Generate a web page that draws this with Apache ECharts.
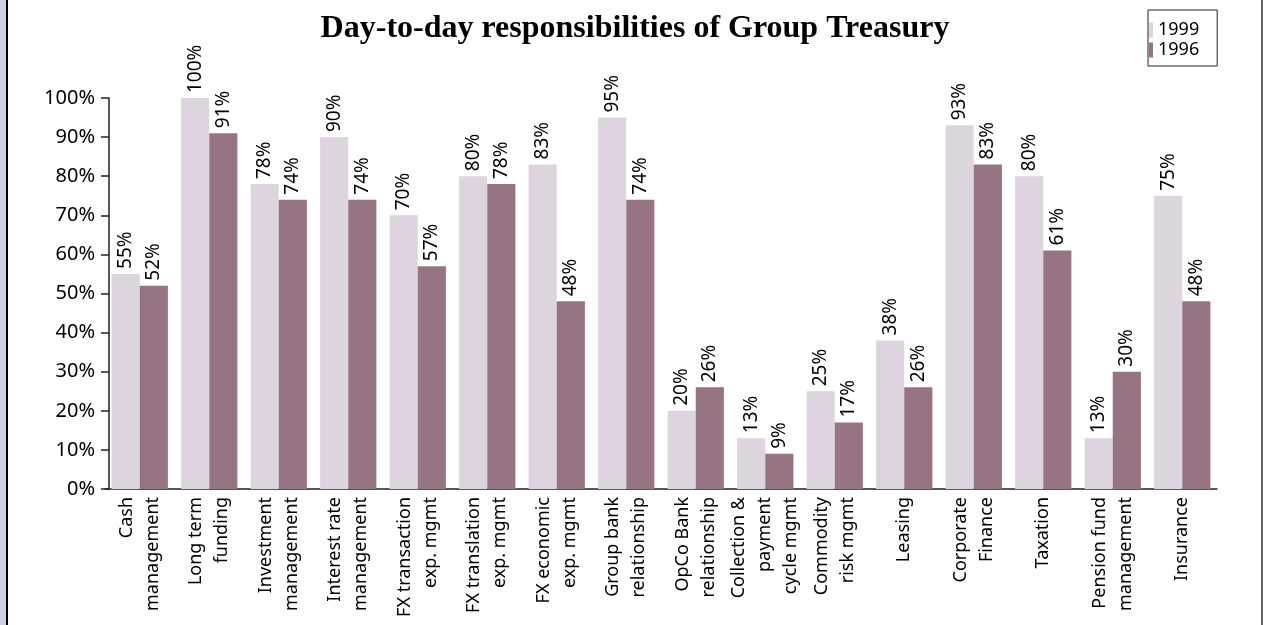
<!DOCTYPE html>
<html>
<head>
<meta charset="utf-8">
<script src="https://cdn.jsdelivr.net/npm/echarts@6/dist/echarts.min.js"></script>
<style>
html,body{margin:0;padding:0;background:#fff;}
#c{width:1263px;height:625px;}
</style>
</head>
<body>
<div id="c"></div>
<script>
const titleText = 'Day-to-day responsibilities of Group Treasury';
const categories = [
  'Cash\nmanagement',
  'Long term\nfunding',
  'Investment\nmanagement',
  'Interest rate\nmanagement',
  'FX transaction\nexp. mgmt',
  'FX translation\nexp. mgmt',
  'FX economic\nexp. mgmt',
  'Group bank\nrelationship',
  'OpCo Bank\nrelationship',
  'Collection &\npayment\ncycle mgmt',
  'Commodity\nrisk mgmt',
  'Leasing',
  'Corporate\nFinance',
  'Taxation',
  'Pension fund\nmanagement',
  'Insurance'
];
const seriesNames = ['1999', '1996'];
const values1999 = [55, 100, 78, 90, 70, 80, 83, 95, 20, 13, 25, 38, 93, 80, 13, 75];
const values1996 = [52, 91, 74, 74, 57, 78, 48, 74, 26, 9, 17, 26, 83, 61, 30, 48];
const yTicks = [0, 10, 20, 30, 40, 50, 60, 70, 80, 90, 100];

const SANS = '"Noto Sans", "Open Sans", sans-serif';
const chart = echarts.init(document.getElementById('c'), null, {renderer: 'canvas'});

const labelCfg = {
  show: true,
  position: 'top',
  rotate: 90,
  align: 'left',
  verticalAlign: 'middle',
  distance: 5,
  formatter: '{c}%',
  color: '#000',
  fontSize: 19,
  fontFamily: SANS
};

chart.setOption({
  animation: false,
  backgroundColor: '#fff',
  title: {
    text: titleText,
    left: 630,
    textAlign: 'center',
    top: 8,
    textStyle: {
      fontFamily: '"Liberation Serif", "DejaVu Serif", serif',
      fontWeight: 'bold',
      fontSize: 32,
      color: '#000'
    }
  },
  legend: {
    data: seriesNames,
    orient: 'vertical',
    left: 1148,
    top: 10,
    icon: 'rect',
    itemWidth: 4,
    itemHeight: 15,
    itemGap: 2,
    padding: [11, 18, 7, 1],
    borderColor: '#222',
    borderWidth: 1,
    textStyle: {fontSize: 18, fontFamily: SANS, color: '#000'}
  },
  grid: {left: 105, right: 46, top: 98, bottom: 136, containLabel: false},
  xAxis: {
    type: 'category',
    data: categories,
    axisLine: {lineStyle: {color: '#222', width: 1.5}},
    axisTick: {length: 7, lineStyle: {color: '#222', width: 1.5}},
    axisLabel: {
      rotate: 90,
      interval: 0,
      margin: 8,
      fontSize: 18,
      lineHeight: 26,
      color: '#000',
      fontFamily: SANS
    }
  },
  yAxis: {
    type: 'value',
    min: 0,
    max: 100,
    interval: 10,
    offset: -4,
    splitLine: {show: false},
    axisLine: {show: true, lineStyle: {color: '#222', width: 1.5}},
    axisTick: {show: true, length: 8, lineStyle: {color: '#222', width: 1.5}},
    axisLabel: {
      formatter: '{value}%',
      fontSize: 20,
      margin: 14,
      color: '#000',
      fontFamily: SANS
    }
  },
  series: [
    {
      name: seriesNames[0],
      type: 'bar',
      data: values1999,
      barGap: '0%',
      barCategoryGap: '19%',
      itemStyle: {color: '#ddd5dd'},
      label: labelCfg
    },
    {
      name: seriesNames[1],
      type: 'bar',
      data: values1996,
      itemStyle: {color: '#967483'},
      label: labelCfg
    }
  ],
  graphic: [
    {type: 'rect', left: 0, top: 0, shape: {width: 6, height: 625}, style: {fill: '#c9d4e1'}, silent: true},
    {type: 'rect', left: 6, top: 0, shape: {width: 2, height: 625}, style: {fill: '#000'}, silent: true},
    {type: 'rect', left: 1261, top: 0, shape: {width: 2, height: 625}, style: {fill: '#666'}, silent: true}
  ]
});
</script>
</body>
</html>
